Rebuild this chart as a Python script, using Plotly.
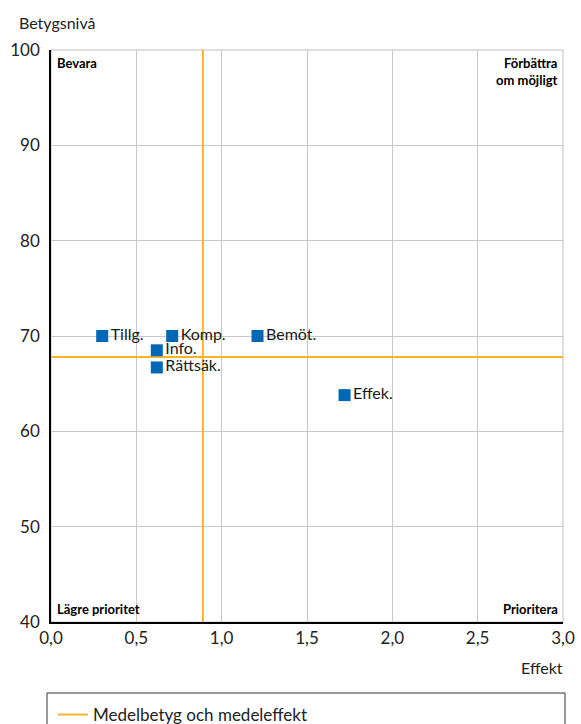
import plotly.graph_objects as go

labels = ["Tillg.", "Komp.", "Info.", "Rättsäk.", "Bemöt.", "Effek."]
effekt = [0.30, 0.71, 0.62, 0.62, 1.21, 1.72]
betyg = [70.0, 70.0, 68.5, 66.7, 70.0, 63.8]
mean_effekt = 0.89
mean_betyg = 67.8
x_ticks = [0, 0.5, 1.0, 1.5, 2.0, 2.5, 3.0]
x_ticklabels = ["0,0", "0,5", "1,0", "1,5", "2,0", "2,5", "3,0"]
y_ticks = [40, 50, 60, 70, 80, 90, 100]

FONT = "Lato"
W, H = 581, 724
ml, mr, mt, mb = 51, 18, 50, 102

fig = go.Figure()
fig.add_trace(go.Scatter(
    x=[mean_effekt, mean_effekt, None, 0, 3],
    y=[40, 100, None, mean_betyg, mean_betyg],
    mode="lines", line=dict(color="#fbb429", width=2),
    name="Medelbetyg och medeleffekt", showlegend=True, hoverinfo="skip"))
fig.add_trace(go.Scatter(
    x=effekt, y=betyg, mode="markers+text", text=labels,
    textposition="middle right",
    textfont=dict(family=FONT, size=16, color="#1a1a1a"),
    marker=dict(symbol="square", size=12, color="#0068b4"),
    showlegend=False, cliponaxis=False))

corner = dict(family=FONT, size=13, color="#000")
anns = [
    dict(x=0, y=1, xref="paper", yref="paper", text="<b>Bevara</b>",
         xanchor="left", yanchor="top", xshift=4, yshift=-3, align="left"),
    dict(x=1, y=1, xref="paper", yref="paper", text="<b>Förbättra<br>om möjligt</b>",
         xanchor="right", yanchor="top", xshift=-3, yshift=-3, align="right"),
    dict(x=0, y=0, xref="paper", yref="paper", text="<b>Lägre prioritet</b>",
         xanchor="left", yanchor="bottom", xshift=4, yshift=3, align="left"),
    dict(x=1, y=0, xref="paper", yref="paper", text="<b>Prioritera</b>",
         xanchor="right", yanchor="bottom", xshift=-3, yshift=3, align="right"),
]
for a in anns:
    a.update(showarrow=False, font=corner)
fig.add_annotation(x=0, y=1, xref="paper", yref="paper", text="Betygsnivå",
                   showarrow=False, xanchor="left", yanchor="bottom",
                   xshift=-34, yshift=16, font=dict(family=FONT, size=16, color="#222"))
fig.add_annotation(x=1, y=0, xref="paper", yref="paper", text="Effekt",
                   showarrow=False, xanchor="right", yanchor="top",
                   xshift=2, yshift=-34, font=dict(family=FONT, size=16, color="#222"))
for a in anns:
    fig.add_annotation(**a)

pw = W - ml - mr
ph = H - mt - mb
fig.add_shape(type="rect", xref="paper", yref="paper", x0=0, x1=1, y0=0, y1=1,
              line=dict(color="#bdbdbd", width=1), layer="below")
fig.add_shape(type="rect", xref="paper", yref="paper",
              x0=(47 - ml) / pw, x1=(565 - ml) / pw,
              y0=(H - mb - 693) / ph, y1=(H - mb - 760) / ph,
              line=dict(color="#333", width=1))

fig.update_layout(
    width=W, height=H,
    margin=dict(l=ml, r=mr, t=mt, b=mb, autoexpand=False),
    paper_bgcolor="white", plot_bgcolor="white",
    font=dict(family=FONT, size=17, color="#222"),
    legend=dict(x=(53 - ml) / pw, y=(H - mb - 697) / ph, xanchor="left", yanchor="top",
                bgcolor="rgba(0,0,0,0)", font=dict(family=FONT, size=17, color="#222"),
                itemwidth=30),
    xaxis=dict(range=[0, 3], tickvals=x_ticks, ticktext=x_ticklabels,
               showgrid=True, gridcolor="#c8c8c8", gridwidth=1,
               showline=True, linecolor="#000", linewidth=1.5,
               zeroline=False, ticks="", tickfont=dict(size=17), automargin=False),
    yaxis=dict(range=[40, 100], tickvals=y_ticks,
               showgrid=True, gridcolor="#c8c8c8", gridwidth=1,
               showline=True, linecolor="#000", linewidth=1.5,
               zeroline=False, ticks="", tickfont=dict(size=17), automargin=False,
               ticklabelstandoff=6),
)
fig.write_html("out.html", config={"displayModeBar": False},
               post_script="document.body.style.margin='0';")
